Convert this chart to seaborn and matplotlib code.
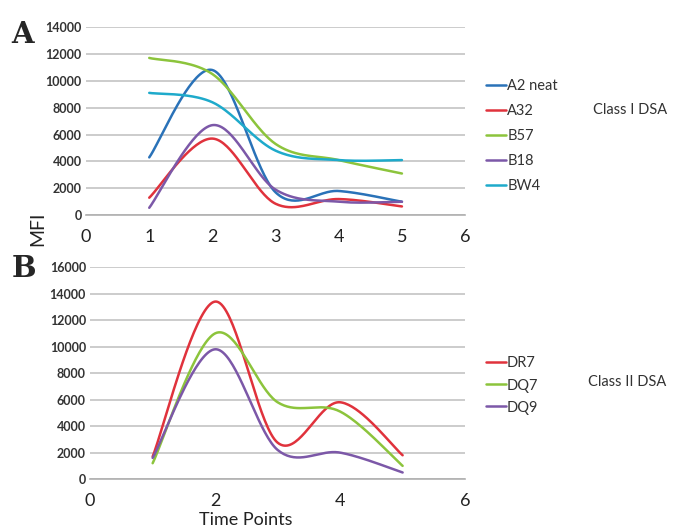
import numpy as np
import pandas as pd
import matplotlib
matplotlib.use("Agg")
import matplotlib.pyplot as plt
import seaborn as sns

# time points and MFI values
time_points = [1, 2, 3, 4, 5]

class1_names = ["A2 neat", "A32", "B57", "B18", "BW4"]
a2_neat = [4300, 10800, 1700, 1800, 1000]
a32 = [1300, 5700, 850, 1200, 650]
b57 = [11700, 10500, 5300, 4100, 3100]
b18 = [550, 6700, 1900, 1000, 1000]
bw4 = [9100, 8400, 4800, 4100, 4100]
class1_colors = ["#2a72b8", "#e0323c", "#8cc43c", "#7c58a8", "#1eaacb"]

class2_names = ["DR7", "DQ7", "DQ9"]
dr7 = [1700, 13400, 2750, 5800, 1800]
dq7 = [1200, 11000, 5800, 5100, 1000]
dq9 = [1600, 9800, 2200, 2000, 500]
class2_colors = ["#e0323c", "#8cc43c", "#7c58a8"]


def smooth(xs, ys, n=40):
    # excel-style smoothed line: cubic bezier segments, catmull-rom control points
    x = np.asarray(xs, float)
    y = np.asarray(ys, float)
    px = np.r_[x[0], x, x[-1]]
    py = np.r_[y[0], y, y[-1]]
    out_x, out_y = [], []
    t = np.linspace(0, 1, n)
    for i in range(len(x) - 1):
        p0 = np.array([px[i + 1], py[i + 1]])
        p3 = np.array([px[i + 2], py[i + 2]])
        p1 = p0 + (p3 - np.array([px[i], py[i]])) / 6
        p2 = p3 - (np.array([px[i + 3], py[i + 3]]) - p0) / 6
        b = (np.outer((1 - t) ** 3, p0) + np.outer(3 * (1 - t) ** 2 * t, p1)
             + np.outer(3 * (1 - t) * t ** 2, p2) + np.outer(t ** 3, p3))
        if i > 0:
            b = b[1:]
        out_x.extend(b[:, 0])
        out_y.extend(b[:, 1])
    return out_x, out_y


def long_frame(names, series):
    rows = []
    for name, vals in zip(names, series):
        sx, sy = smooth(time_points, vals)
        rows.append(pd.DataFrame({"x": sx, "MFI": sy, "DSA": name}))
    return pd.concat(rows, ignore_index=True)


df1 = long_frame(class1_names, [a2_neat, a32, b57, b18, bw4])
df2 = long_frame(class2_names, [dr7, dq7, dq9])

sns.set_style("white")
plt.rcParams["font.family"] = ["Lato", "DejaVu Sans"]

fig = plt.figure(figsize=(6.83, 5.30), dpi=100)
ax1 = fig.add_axes([0.126, 0.594, 0.555, 0.355])
ax2 = fig.add_axes([0.132, 0.096, 0.549, 0.400])

grid_c = "#c8c8c8"


def style_axes(ax, ymax, xstep):
    ax.set_xlim(0, 6)
    ax.set_ylim(0, ymax)
    ax.set_yticks(np.arange(0, ymax + 1, 2000))
    ax.set_xticks(np.arange(0, 7, xstep))
    ax.yaxis.grid(True, color=grid_c, lw=1.3)
    ax.set_axisbelow(True)
    for s in ["top", "right", "left"]:
        ax.spines[s].set_visible(False)
    ax.spines["bottom"].set_color("#b0b0b0")
    ax.spines["bottom"].set_linewidth(1.2)
    ax.tick_params(axis="x", length=4, color="#b0b0b0", width=1.2,
                   labelsize=13, pad=6, labelcolor="#222222")
    ax.tick_params(axis="y", length=0, labelsize=9, pad=3, labelcolor="#333333")
    for lab in ax.get_yticklabels():
        lab.set_fontweight("bold")
    ax.set_xlabel("")
    ax.set_ylabel("")


sns.lineplot(data=df1, x="x", y="MFI", hue="DSA", palette=class1_colors,
             sort=False, estimator=None, lw=1.8, ax=ax1)
sns.lineplot(data=df2, x="x", y="MFI", hue="DSA", palette=class2_colors,
             sort=False, estimator=None, lw=1.8, ax=ax2)

style_axes(ax1, 14000, 1)
style_axes(ax2, 16000, 2)

for ax, anchor, spacing in [(ax1, (1.04, 0.755), 0.75), (ax2, (1.04, 0.606), 0.55)]:
    leg = ax.legend(loc="upper left", bbox_to_anchor=anchor, frameon=False,
                    fontsize=10.5, handlelength=1.35, handletextpad=0.1,
                    labelspacing=spacing, borderaxespad=0)
    for h in leg.get_lines():
        h.set_linewidth(1.8)
    for t in leg.get_texts():
        t.set_color("#333333")

fig.text(0.868, 0.792, "Class I DSA", fontsize=10.5, color="#333333",
         ha="left", va="center")
fig.text(0.861, 0.279, "Class II DSA", fontsize=10.5, color="#333333",
         ha="left", va="center")

fig.text(0.017, 0.935, "A", fontsize=21, fontweight="bold",
         family="DejaVu Serif", ha="left", va="center")
fig.text(0.017, 0.493, "B", fontsize=21, fontweight="bold",
         family="DejaVu Serif", ha="left", va="center")

fig.text(0.056, 0.568, "MFI", fontsize=14, rotation=90, color="#222222",
         ha="center", va="center")
fig.text(0.36, 0.018, "Time Points", fontsize=13, color="#222222",
         ha="center", va="center")

fig.savefig("out.png", dpi=100)
